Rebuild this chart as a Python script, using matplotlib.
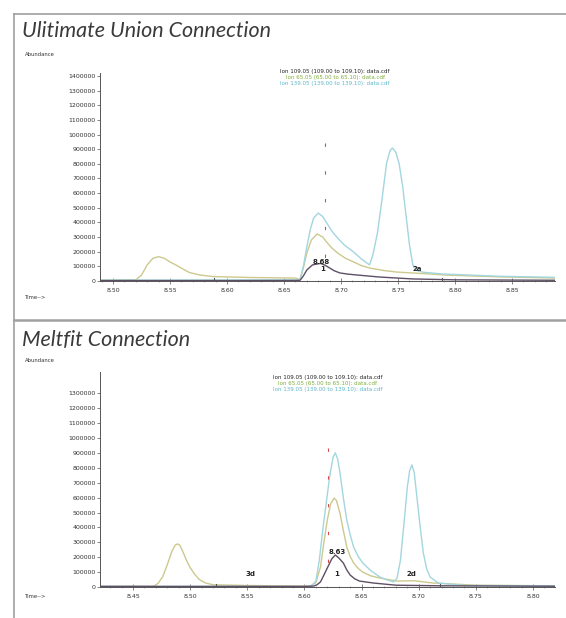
import matplotlib.pyplot as plt
from matplotlib.lines import Line2D
from matplotlib.ticker import MultipleLocator

# ---- Ultimate Union Connection (top) ----
top_t109 = [8.489, 8.60, 8.664, 8.667, 8.670, 8.675, 8.682, 8.686, 8.690, 8.694, 8.699, 8.706, 8.714,
            8.734, 8.763, 8.80, 8.888]
top_v109 = [3000, 3000, 4000, 35000, 75000, 110000, 120000, 108000, 89000, 70000, 55000, 47000, 41000,
            27000, 14000, 8000, 5000]

top_t65 = [8.489, 8.52, 8.525, 8.530, 8.535, 8.540, 8.545, 8.550, 8.555, 8.559, 8.563, 8.567, 8.576,
           8.588, 8.62, 8.66, 8.664, 8.667, 8.670, 8.674, 8.679, 8.684, 8.688, 8.692, 8.697, 8.704,
           8.711, 8.718, 8.725, 8.737, 8.749, 8.778, 8.793, 8.84, 8.888]
top_v65 = [5000, 8000, 40000, 110000, 155000, 166000, 155000, 130000, 110000, 92000, 75000, 58000, 41000,
           30000, 24000, 20000, 10000, 90000, 191000, 280000, 321000, 300000, 260000, 225000, 191000, 155000,
           130000, 105000, 89000, 72000, 61000, 48000, 40000, 28000, 20000]

top_t139 = [8.489, 8.60, 8.660, 8.664, 8.667, 8.670, 8.673, 8.676, 8.680, 8.684, 8.688, 8.692, 8.697,
            8.703, 8.711, 8.718, 8.725, 8.728, 8.732, 8.736, 8.740, 8.743, 8.745, 8.748, 8.751, 8.754,
            8.757, 8.760, 8.763, 8.767, 8.772, 8.789, 8.84, 8.888]
top_v139 = [6000, 7000, 7000, 9000, 100000, 232000, 350000, 430000, 464000, 440000, 390000, 340000, 294000,
            245000, 198000, 150000, 110000, 180000, 330000, 560000, 806000, 890000, 908000, 880000, 800000,
            650000, 450000, 250000, 110000, 70000, 60000, 48000, 32000, 25000]

top_base = [8.663, 8.789]
top_marks = [8.589, 8.789]
top_rt = 8.686

# ---- Meltfit Connection (bottom) ----
bot_t109 = [8.421, 8.60, 8.608, 8.611, 8.614, 8.617, 8.620, 8.624, 8.627, 8.630, 8.634, 8.637, 8.640,
            8.644, 8.648, 8.660, 8.68, 8.72, 8.819]
bot_v109 = [4000, 4000, 6000, 15000, 34000, 80000, 128000, 190000, 215000, 195000, 161000, 115000, 80000,
            55000, 40000, 27000, 12000, 8000, 5000]

bot_t65 = [8.421, 8.468, 8.472, 8.476, 8.480, 8.484, 8.487, 8.489, 8.491, 8.494, 8.497, 8.500, 8.504,
           8.508, 8.513, 8.52, 8.55, 8.605, 8.610, 8.614, 8.617, 8.620, 8.623, 8.626, 8.628, 8.631,
           8.634, 8.637, 8.640, 8.643, 8.647, 8.651, 8.658, 8.666, 8.681, 8.696, 8.712, 8.75, 8.819]
bot_v65 = [4000, 5000, 25000, 70000, 150000, 240000, 282000, 289000, 280000, 230000, 175000, 130000, 85000,
           50000, 28000, 15000, 10000, 6000, 30000, 134000, 300000, 450000, 560000, 597000, 580000, 497000,
           380000, 268000, 205000, 161000, 125000, 100000, 75000, 60000, 40000, 42000, 27000, 12000, 8000]

bot_t139 = [8.421, 8.60, 8.606, 8.610, 8.613, 8.616, 8.619, 8.622, 8.625, 8.627, 8.629, 8.631, 8.634,
            8.637, 8.640, 8.643, 8.647, 8.651, 8.658, 8.666, 8.672, 8.678, 8.681, 8.684, 8.687, 8.690,
            8.692, 8.694, 8.696, 8.698, 8.701, 8.704, 8.707, 8.710, 8.717, 8.74, 8.819]
bot_v139 = [4000, 4000, 6000, 40000, 180000, 383000, 560000, 740000, 870000, 900000, 860000, 770000, 600000,
            450000, 350000, 268000, 205000, 161000, 110000, 67000, 48000, 34000, 60000, 181000, 420000,
            671000, 780000, 819000, 770000, 631000, 420000, 228000, 120000, 67000, 27000, 10000, 8000]

bot_base = [8.607, 8.720]
bot_marks = [8.523, 8.719]
bot_rt = 8.621

ion_labels = ["Ion 109.05 (109.00 to 109.10): data.cdf",
              "Ion 65.05 (65.00 to 65.10): data.cdf",
              "Ion 139.05 (139.00 to 139.10): data.cdf"]

c109 = '#5e4f66'
c65 = '#cdc98e'
c139 = '#a3d6de'
text_cols = ['#222222', '#7fae3a', '#5fb8c8']

W, H = 566, 618
fig = plt.figure(figsize=(W / 100, H / 100), dpi=100)


def fx(px):
    return px / W


def fy(py):
    return 1 - py / H


# frame lines
frame = '#a0a0a0'
fig.add_artist(Line2D([fx(14), fx(14)], [0, fy(14)], color=frame, lw=1.2))
fig.add_artist(Line2D([fx(14), 1], [fy(14), fy(14)], color=frame, lw=1.2))
fig.add_artist(Line2D([fx(14), 1], [fy(320), fy(320)], color=frame, lw=1.8))


def panel(box, title, ty, ab_y, time_y, leg_y, leg_x, xlim, ymax, yticks, xticks,
          t109, v109, t65, v65, t139, v139, base, marks, rt, rt_top, rt_label, extra):
    ax = fig.add_axes(box)
    ax.plot(t65, v65, color=c65, lw=1.0)
    ax.plot(t139, v139, color=c139, lw=1.0)
    ax.plot(t109, v109, color=c109, lw=1.0)
    ax.plot(base, [0, 0], color='#e89a80', lw=0.8)
    for m in marks:
        ax.plot([m, m], [-12000, 22000], color='#555555', lw=0.8)
    # retention-time marker, dashes start from the top
    ax.plot([rt, rt], [rt_top, 0], color='#d24a4a', lw=0.8, ls=(0, (3, 22)))
    ax.text(rt_label[0], rt_label[1], rt_label[2], fontsize=5, ha='center', va='center',
            color='#222222', fontweight='bold')
    for tx, tyv, s in extra:
        ax.text(tx, tyv, s, fontsize=5, ha='center', va='center', color='#222222', fontweight='bold')

    ax.set_xlim(xlim)
    ax.set_ylim(0, ymax)
    ax.set_yticks(yticks)
    ax.set_yticklabels([str(v) for v in yticks])
    ax.set_xticks(xticks)
    ax.set_xticklabels(['%.2f' % v for v in xticks])
    ax.xaxis.set_minor_locator(MultipleLocator(0.01))
    for s in ['top', 'right']:
        ax.spines[s].set_visible(False)
    for s in ['left', 'bottom']:
        ax.spines[s].set_color('#555555')
        ax.spines[s].set_linewidth(0.7)
    ax.tick_params(axis='y', length=2, width=0.5, labelsize=4.5, pad=1, colors='#555555',
                   labelcolor='#333333')
    ax.tick_params(axis='x', which='major', direction='inout', length=4, width=0.5, labelsize=4.5,
                   pad=3, colors='#555555', labelcolor='#333333')
    ax.tick_params(axis='x', which='minor', direction='inout', length=2, width=0.4, colors='#777777')
    ax.patch.set_alpha(0)

    fig.text(fx(22), fy(ty), title, fontsize=15.5, style='italic', family='Lato', fontweight='normal',
             color='#3a3a3a', va='center', ha='left')
    fig.text(fx(25), fy(ab_y), 'Abundance', fontsize=3.8, color='#333333', va='center')
    fig.text(fx(25), fy(time_y), 'Time-->', fontsize=3.8, color='#333333', va='center')
    for i, (lab, col) in enumerate(zip(ion_labels, text_cols)):
        fig.text(fx(leg_x), fy(leg_y + 6 * i), lab, fontsize=4, color=col, ha='center', va='center')
    return ax


panel([fx(100), fy(281), fx(455), (281 - 73) / H], 'Ulitimate Union Connection', 31, 54, 298, 71, 335,
      (8.4886, 8.8877), 1420000, list(range(0, 1400001, 100000)),
      [8.50, 8.55, 8.60, 8.65, 8.70, 8.75, 8.80, 8.85],
      top_t109, top_v109, top_t65, top_v65, top_t139, top_v139, top_base, top_marks, top_rt, 940000,
      (8.683, 130000, '8.68'), [(8.684, 82000, '1'), (8.767, 82000, '2a')])

panel([fx(100), fy(587), fx(455), (587 - 372) / H], 'Meltfit Connection', 340, 360, 596, 378, 328,
      (8.4211, 8.8192), 1443000, list(range(0, 1300001, 100000)),
      [8.45, 8.50, 8.55, 8.60, 8.65, 8.70, 8.75, 8.80],
      bot_t109, bot_v109, bot_t65, bot_v65, bot_t139, bot_v139, bot_base, bot_marks, bot_rt, 930000,
      (8.629, 235000, '8.63'), [(8.628, 90000, '1'), (8.553, 90000, '3d'), (8.694, 90000, '2d')])

fig.savefig('out.png', dpi=100)
